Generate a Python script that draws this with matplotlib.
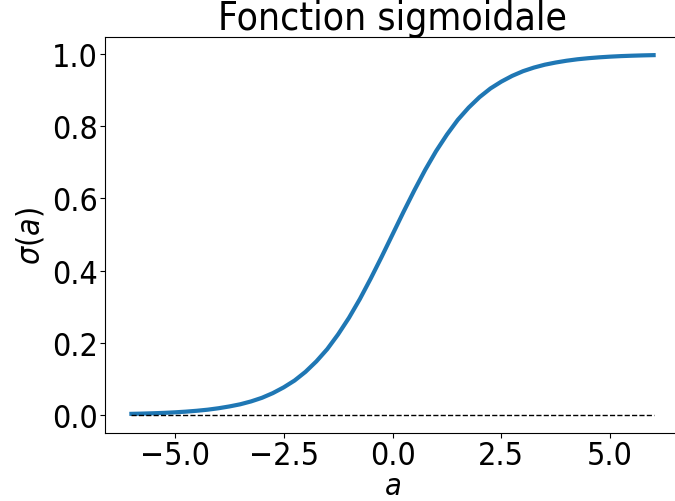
import matplotlib.pyplot as plt

# valeurs (pas de 0.25)
a_vals = [-6.0, -5.75, -5.5, -5.25, -5.0, -4.75, -4.5, -4.25, -4.0, -3.75, -3.5, -3.25,
          -3.0, -2.75, -2.5, -2.25, -2.0, -1.75, -1.5, -1.25, -1.0, -0.75, -0.5, -0.25,
          0.0, 0.25, 0.5, 0.75, 1.0, 1.25, 1.5, 1.75, 2.0, 2.25, 2.5, 2.75,
          3.0, 3.25, 3.5, 3.75, 4.0, 4.25, 4.5, 4.75, 5.0, 5.25, 5.5, 5.75, 6.0]
sigma_vals = [0.0025, 0.0032, 0.0041, 0.0052, 0.0067, 0.0086, 0.011, 0.014, 0.018,
              0.023, 0.029, 0.037, 0.047, 0.060, 0.076, 0.095, 0.119, 0.148, 0.182,
              0.223, 0.269, 0.321, 0.378, 0.438, 0.500, 0.562, 0.622, 0.679, 0.731,
              0.777, 0.818, 0.852, 0.881, 0.905, 0.924, 0.940, 0.953, 0.963, 0.971,
              0.977, 0.982, 0.986, 0.989, 0.9914, 0.9933, 0.9948, 0.9959, 0.9968, 0.9975]
zero_x = [-6.0, 6.0]
zero_y = [0.0, 0.0]

plt.rcParams['font.family'] = 'DejaVu Sans'
plt.rcParams['font.stretch'] = 'condensed'

fig = plt.figure(figsize=(6.75, 5.02), dpi=100)
ax = fig.add_axes([0.156, 0.136, 0.851, 0.788])

ax.plot(a_vals, sigma_vals, color='#1f77b4', linewidth=3)
ax.plot(zero_x, zero_y, 'k--', linewidth=1)

ax.set_title('Fonction sigmoidale', fontsize=28, pad=4)
ax.set_xlabel('$a$', fontsize=22, labelpad=0)
ax.set_ylabel(r'$\sigma(a)$', fontsize=23)
ax.set_xticks([-5.0, -2.5, 0.0, 2.5, 5.0])
ax.set_yticks([0.0, 0.2, 0.4, 0.6, 0.8, 1.0])
ax.tick_params(labelsize=23, pad=2)

plt.savefig('out.png', dpi=100)
plt.close()
